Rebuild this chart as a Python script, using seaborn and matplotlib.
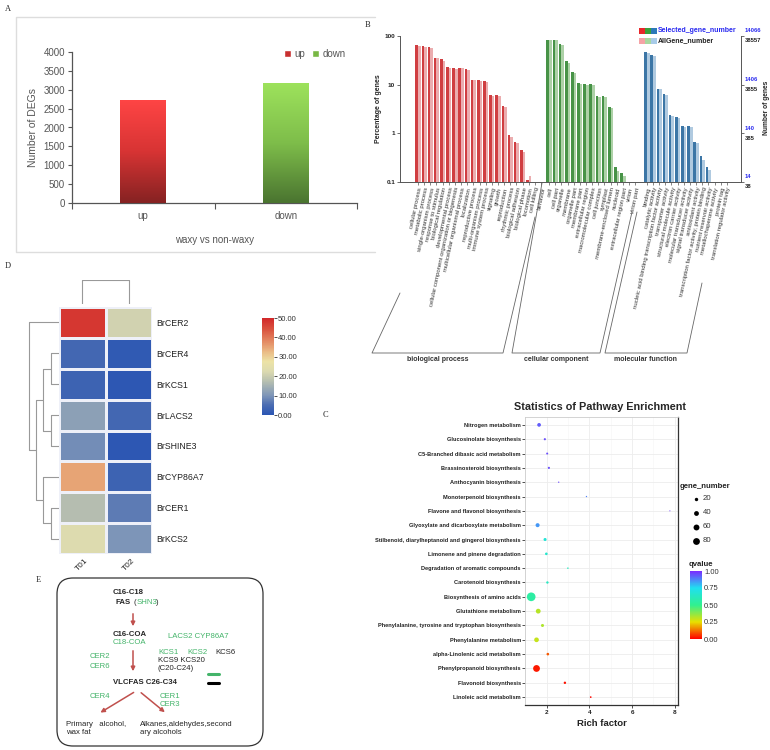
import numpy as np
import pandas as pd
import matplotlib
matplotlib.use("Agg")
import matplotlib.pyplot as plt
import matplotlib.transforms as mtransforms
from matplotlib.colors import LinearSegmentedColormap, Normalize
from matplotlib.cm import ScalarMappable
from matplotlib.patches import Rectangle, FancyBboxPatch, FancyArrowPatch
import seaborn as sns

# ------------------------------------------------------------------ data
# Panel A
deg_groups = ["up", "down"]
deg_counts = [2740, 3170]

# Panel B (GO classification, percentage of genes)
bp_terms = ["cellular process", "metabolic process", "single-organism process",
            "response to stimulus", "biological regulation", "developmental process",
            "cellular component organization or biogenesis", "multicellular organismal process",
            "localization", "reproductive process", "multi-organism process",
            "immune system process", "signaling", "growth", "reproduction",
            "rhythmic process", "biological adhesion", "biological phase",
            "locomotion", "cell killing", "behavior"]
bp_selected = [64, 61, 59, 36, 33, 23, 22, 22, 21, 12.6, 12.3, 11.7, 6.0, 6.1, 3.7,
               0.91, 0.66, 0.45, 0.11, 0, 0]
bp_all = [62, 60, 57, 35, 31, 22, 21, 22, 20, 12.2, 12.0, 11.2, 5.8, 5.9, 3.5,
          0.85, 0.62, 0.42, 0.13, 0, 0]
cc_terms = ["cell", "cell part", "organelle", "membrane", "organelle part", "membrane part",
            "extracellular region", "macromolecular complex", "cell junction", "symplast",
            "membrane-enclosed lumen", "nucleoid", "extracellular region part", "virion",
            "virion part"]
cc_selected = [84, 84, 67, 30, 18, 10.8, 10.3, 10.3, 5.9, 5.9, 3.5, 0.2, 0.15, 0, 0]
cc_all = [82, 82, 65, 28, 17, 10.4, 10.0, 10.0, 5.7, 5.7, 3.3, 0.17, 0.13, 0, 0]
mf_terms = ["binding", "catalytic activity",
            "nucleic acid binding transcription factor activity", "transporter activity",
            "structural molecule activity", "electron carrier activity",
            "molecular transducer activity", "signal transducer activity",
            "antioxidant activity", "transcription factor activity, protein binding",
            "nutrient reservoir activity", "metallochaperone activity", "protein tag",
            "translation regulator activity"]
mf_selected = [47, 40, 8.3, 6.3, 2.35, 2.2, 1.4, 1.4, 0.66, 0.35, 0.2, 0, 0, 0]
mf_all = [45, 38, 8.0, 6.1, 2.25, 2.1, 1.35, 1.35, 0.62, 0.28, 0.18, 0, 0, 0]
go_classes = ["biological process", "cellular component", "molecular function"]
pct_ticks = [100, 10, 1, 0.1]
pct_labels = ["100", "10", "1", "0.1"]
sel_totals = ["14066", "1406", "140", "14"]
all_totals = ["38557", "3855", "385", "38"]

# Panel D (heatmap)
genes = ["BrCER2", "BrCER4", "BrKCS1", "BrLACS2", "BrSHINE3", "BrCYP86A7", "BrCER1", "BrKCS2"]
samples = ["T01", "T02"]
t01_expr = [48, 4, 3, 12, 9, 35, 17, 23]
t02_expr = [21, 1, 0.5, 4, 0.5, 3, 7, 10]
row_merges = [(1, 2, 1.0), (3, 4, 1.0), (6, 7, 1.0), (8, 9, 2.05), (5, 10, 2.05),
              (11, 12, 3.0), (0, 13, 3.9)]
col_merges = [(0, 1, 1.0)]

# Panel C (KEGG enrichment)
pathways = ["Nitrogen metabolism", "Glucosinolate biosynthesis",
            "C5-Branched dibasic acid metabolism", "Brassinosteroid biosynthesis",
            "Anthocyanin biosynthesis", "Monoterpenoid biosynthesis",
            "Flavone and flavonol biosynthesis", "Glyoxylate and dicarboxylate metabolism",
            "Stilbenoid, diarylheptanoid and gingerol biosynthesis",
            "Limonene and pinene degradation", "Degradation of aromatic compounds",
            "Carotenoid biosynthesis", "Biosynthesis of amino acids",
            "Glutathione metabolism", "Phenylalanine, tyrosine and tryptophan biosynthesis",
            "Phenylalanine metabolism", "alpha-Linolenic acid metabolism",
            "Phenylpropanoid biosynthesis", "Flavonoid biosynthesis",
            "Linoleic acid metabolism"]
rich_factor = [1.64, 1.91, 2.02, 2.10, 2.56, 3.86, 7.77, 1.57, 1.92, 1.98, 2.99, 2.03,
               1.27, 1.60, 1.80, 1.52, 2.05, 1.52, 2.85, 4.06]
gene_number = [24, 8, 7, 8, 3, 3, 2, 28, 16, 12, 4, 10, 130, 40, 16, 38, 12, 80, 10, 5]
qvalue = [0.93, 0.95, 0.95, 0.95, 0.96, 0.88, 0.97, 0.85, 0.68, 0.66, 0.62, 0.63,
          0.55, 0.32, 0.33, 0.30, 0.10, 0.03, 0.02, 0.01]
size_legend = [20, 40, 60, 80]
q_ticks = [0, 0.25, 0.5, 0.75, 1.0]

# ------------------------------------------------------------------ setup
sns.set_style("white")
plt.rcParams['font.family'] = ['Liberation Sans', 'DejaVu Sans']
W, H = 770, 750
fig = plt.figure(figsize=(7.7, 7.5), dpi=100)


def rect(x0, y0, x1, y1):
    return [x0 / W, 1 - y1 / H, (x1 - x0) / W, (y1 - y0) / H]


# ------------------------------------------------------------------ Panel A
axA = fig.add_axes(rect(72, 52, 357, 203))
sns.barplot(x=deg_groups, y=deg_counts, hue=deg_groups,
            palette={"up": "#e03a3a", "down": "#86c84c"}, width=0.32,
            legend=False, ax=axA, zorder=2)
grad = np.linspace(0, 1, 256).reshape(-1, 1)
grad_maps = [LinearSegmentedColormap.from_list("r", ["#852222", "#d83434", "#ff4545"]),
             LinearSegmentedColormap.from_list("g", ["#4a7430", "#7ebd4a", "#9de25c"])]
for patch, cm in zip(list(axA.patches)[:2], grad_maps):
    x0, y0 = patch.get_x(), patch.get_y()
    w, h = patch.get_width(), patch.get_height()
    im = axA.imshow(grad, extent=[x0, x0 + w, y0, y0 + h], origin="lower",
                    aspect="auto", cmap=cm, zorder=3)
    im.set_clip_path(patch)
axA.set_xlim(-0.5, 1.5)
axA.set_ylim(0, 4000)
axA.set_yticks(np.arange(0, 4001, 500))
axA.set_yticklabels([str(v) for v in range(0, 4001, 500)])
axA.set_xticks([0, 1])
axA.set_xticklabels(deg_groups)
axA.set_xticks([-0.5, 0.5, 1.5], minor=True)
for s in ["top", "right"]:
    axA.spines[s].set_visible(False)
for s in ["left", "bottom"]:
    axA.spines[s].set_color("#555555")
    axA.spines[s].set_linewidth(0.9)
axA.tick_params(axis="y", length=3, width=0.8, color="#555555", labelsize=7,
                labelcolor="#555555", pad=2, left=True)
axA.tick_params(axis="x", which="major", length=0, labelsize=7, labelcolor="#555555", pad=6)
axA.tick_params(axis="x", which="minor", length=4, width=0.8, color="#555555", bottom=True)
axA.set_ylabel("Number of DEGs", fontsize=7.5, color="#555555", labelpad=4)
axA.set_xlabel("waxy vs non-waxy", fontsize=7, color="#555555", labelpad=10)
handlesA = [Rectangle((0, 0), 1, 1, fc="#c83030"), Rectangle((0, 0), 1, 1, fc="#78b844")]
axA.legend(handlesA, deg_groups, ncol=2, loc="upper right",
           bbox_to_anchor=(354 / W, 1 - 40 / H), bbox_transform=fig.transFigure,
           frameon=False, fontsize=7, handlelength=0.7, handleheight=0.7,
           handletextpad=0.3, columnspacing=0.8, labelcolor="#555555")

# ------------------------------------------------------------------ Panel B
axB = fig.add_axes(rect(400, 36, 741, 182))
axB.set_yscale("log")
group_offsets = [0.0, 21.3, 37.2]
group_data = [(bp_terms, bp_selected, bp_all, ("#e8262a", "#f5a3a6")),
              (cc_terms, cc_selected, cc_all, ("#3aa03a", "#a8d8a0")),
              (mf_terms, mf_selected, mf_all, ("#2a78b8", "#a8cbe8"))]
all_pos, all_terms = [], []
for (terms, sel, allv, (dk, lt)), off in zip(group_data, group_offsets):
    n = len(terms)
    x = np.arange(n) + off
    all_pos.extend(list(x))
    all_terms.extend(terms)
    df = pd.DataFrame({"x": np.concatenate([x, x]),
                       "pct": np.concatenate([sel, allv]),
                       "set": ["Selected"] * n + ["All"] * n})
    df = df[df["pct"] > 0]
    sns.barplot(data=df, x="x", y="pct", hue="set", hue_order=["Selected", "All"],
                palette={"All": lt, "Selected": dk}, native_scale=True, width=0.86,
                dodge=True, errorbar=None, legend=False, ax=axB, linewidth=0)
axB.set_xlim(-2.93, 52.5)
axB.set_ylim(0.1, 100)
axB.set_yticks(pct_ticks)
axB.set_yticklabels(pct_labels)
axB.yaxis.set_minor_locator(matplotlib.ticker.NullLocator())
axB.set_xticks(all_pos)
axB.set_xticklabels(all_terms, rotation=78, ha="right", rotation_mode="anchor",
                    fontsize=4.3, color="#333333")
axB.tick_params(axis="x", length=2, width=0.5, color="#555555", pad=1.5, bottom=True)
axB.tick_params(axis="y", length=2, width=0.5, color="#333333", labelsize=4.6, pad=1.5,
                left=True, right=True)
for lab in axB.get_yticklabels():
    lab.set_fontweight("bold")
axB.set_xlabel("")
axB.set_ylabel("Percentage of genes", fontsize=5, fontweight="bold", labelpad=2)
axB.spines["top"].set_visible(False)
for s in ["bottom", "right", "left"]:
    axB.spines[s].set_color("#555555")
    axB.spines[s].set_linewidth(0.7)
trB = mtransforms.blended_transform_factory(axB.transAxes, axB.transData)
for v, st, at in zip(pct_ticks, sel_totals, all_totals):
    axB.text(1.01, v, st, transform=mtransforms.offset_copy(trB, fig=fig, y=5, units="dots"),
             fontsize=4.2, color="#2a2af0", fontweight="bold", va="center", ha="left")
    axB.text(1.01, v, at, transform=mtransforms.offset_copy(trB, fig=fig, y=-5, units="dots"),
             fontsize=4.2, color="#222222", fontweight="bold", va="center", ha="left")
fig.text(766.5 / W, 1 - 108 / H, "Number of genes", rotation=90, fontsize=4.8,
         fontweight="bold", ha="center", va="center")

# ------------------------------------------------------------------ Panel D
heat_cmap = LinearSegmentedColormap.from_list(
    "heat", [(0.0, "#2a55b3"), (0.1, "#4a6cb2"), (0.2, "#7d95b8"), (0.35, "#b8c0b0"),
             (0.45, "#dcdab0"), (0.55, "#ece3a6"), (0.65, "#eabb86"), (0.75, "#e48e66"),
             (0.88, "#da5540"), (1.0, "#d2282a")])
dfD = pd.DataFrame({"T01": t01_expr, "T02": t02_expr}, index=genes)
axD = fig.add_axes(rect(59, 307, 152, 554))
axCb = fig.add_axes(rect(262, 318, 274, 415))
sns.heatmap(dfD, ax=axD, cmap=heat_cmap, vmin=0, vmax=50, linewidths=0.8,
            linecolor="#eef0f8", cbar_ax=axCb,
            cbar_kws=dict(ticks=[0, 10, 20, 30, 40, 50], format="%.2f"))
axD.yaxis.tick_right()
axD.set_yticklabels(genes, rotation=0, fontsize=6.3, color="#222222")
axD.set_xticklabels(samples, rotation=45, ha="center", fontsize=6, color="#222222")
axD.tick_params(axis="y", length=0, pad=3)
axD.tick_params(axis="x", length=0, pad=2)
axD.set_xlabel("")
axD.set_ylabel("")
axCb.tick_params(labelsize=5.5, length=2, width=0.6, color="#333333", pad=1,
                 labelcolor="#333333")
axD.collections[0].colorbar.outline.set_visible(False)


def draw_dendro(ax, merges, n, orient):
    pos = {i: i + 0.5 for i in range(n)}
    hgt = {i: 0.0 for i in range(n)}
    for k, (a, b, h) in enumerate(merges):
        pa, pb = pos[a], pos[b]
        hs = [hgt[a], h, h, hgt[b]]
        ps = [pa, pa, pb, pb]
        if orient == "left":
            ax.plot(hs, ps, color="#999999", lw=0.8)
        else:
            ax.plot(ps, hs, color="#999999", lw=0.8)
        pos[n + k] = (pa + pb) / 2
        hgt[n + k] = h


axDL = fig.add_axes(rect(27, 307, 59, 554))
draw_dendro(axDL, row_merges, len(genes), "left")
axDL.set_xlim(4.1, 0)
axDL.set_ylim(len(genes), 0)
axDL.axis("off")
axDT = fig.add_axes(rect(59, 280, 152, 304))
draw_dendro(axDT, col_merges, len(samples), "top")
axDT.set_xlim(0, len(samples))
axDT.set_ylim(0, 1.02)
axDT.axis("off")

# ------------------------------------------------------------------ Panel C
q_cmap = LinearSegmentedColormap.from_list(
    "q", [(0.0, "#ff0000"), (0.25, "#e8e000"), (0.5, "#30f090"), (0.75, "#20e0f0"),
          (1.0, "#7a2cff")])
dfC = pd.DataFrame({"pathway": pathways, "rich": rich_factor, "genes": gene_number,
                    "q": qvalue})
axC = fig.add_axes(rect(525, 417, 678, 705))
sns.scatterplot(data=dfC, x="rich", y="pathway", hue="q", palette=q_cmap, hue_norm=(0, 1),
                size="genes", sizes=(0, 45), size_norm=(0, 150), linewidth=0,
                legend=False, ax=axC, zorder=3)
axC.set_xlim(0.98, 8.15)
axC.set_ylim(len(pathways) - 0.45, -0.55)
axC.set_xticks([2, 4, 6, 8])
axC.set_xticks([1, 3, 5, 7], minor=True)
axC.grid(True, which="major", color="#ededed", lw=0.6, zorder=0)
axC.grid(True, which="minor", axis="x", color="#f5f5f5", lw=0.4, zorder=0)
axC.set_axisbelow(True)
axC.tick_params(axis="y", length=2, width=0.6, color="#333333", labelsize=4.1, pad=1,
                left=True, labelcolor="#222222")
axC.tick_params(axis="x", which="major", length=2, width=0.6, color="#333333",
                labelsize=4.6, pad=1.5, bottom=True, labelcolor="#222222")
axC.tick_params(axis="x", which="minor", length=0)
for lab in list(axC.get_yticklabels()) + list(axC.get_xticklabels()):
    lab.set_fontweight("bold")
axC.set_ylabel("")
axC.set_xlabel("Rich factor", fontsize=6.8, fontweight="bold", color="#222222", labelpad=3)
axC.set_title("Statistics of Pathway Enrichment", fontsize=7.8, fontweight="bold",
              pad=5, x=0.49)
for s in ["top", "left"]:
    axC.spines[s].set_color("#cccccc")
    axC.spines[s].set_linewidth(0.6)
for s in ["bottom", "right"]:
    axC.spines[s].set_color("#333333")
    axC.spines[s].set_linewidth(0.9)

axQ = fig.add_axes(rect(690, 571, 702, 639))
cbq = fig.colorbar(ScalarMappable(norm=Normalize(0, 1), cmap=q_cmap), cax=axQ,
                   ticks=q_ticks, format="%.2f")
cbq.outline.set_visible(False)
axQ.tick_params(labelsize=5.5, length=2.5, width=0.5, color="white", pad=1.5,
                labelcolor="#333333", direction="in")

# ------------------------------------------------------------------ overlay
axO = fig.add_axes([0, 0, 1, 1])
axO.set_xlim(0, W)
axO.set_ylim(H, 0)
axO.axis("off")
axO.patch.set_alpha(0)

# panel letters
for letter, (lx, ly) in {"A": (8, 9), "B": (368, 25), "D": (8, 266), "C": (325, 415),
                         "E": (38, 580)}.items():
    axO.text(lx, ly, letter, fontsize=6, family="Liberation Serif", ha="center", va="center")

# panel A frame
axO.plot([375, 16, 16, 375], [17, 17, 252, 252], color="#dddddd", lw=1)

# panel B legend
for i, (dk, lt) in enumerate([g[3] for g in group_data]):
    axO.add_patch(Rectangle((639 + 6 * i, 28), 5.5, 5.5, fc=dk, ec="none"))
    axO.add_patch(Rectangle((639 + 6 * i, 38), 5.5, 5.5, fc=lt, ec="none"))
axO.text(658, 30.5, "Selected_gene_number", fontsize=5, fontweight="bold",
         color="#2a2af0", va="center")
axO.text(658, 40.5, "AllGene_number", fontsize=5, fontweight="bold", color="#222222",
         va="center")

# panel B brackets
brk = dict(color="#666666", lw=0.6)
axO.plot([400, 372, 503, 535], [293, 353, 353, 217], **brk)
axO.plot([542, 512, 600, 632], [183, 353, 353, 212], **brk)
axO.plot([637, 605, 687, 702], [212, 353, 353, 283], **brk)
for cx, name in zip([438, 556, 646], go_classes):
    axO.text(cx, 359.5, name, fontsize=5, fontweight="bold", color="#333333",
             ha="center", va="center")

# panel C size legend
axO.text(680, 486, "gene_number", fontsize=5.6, fontweight="bold", color="#222222",
         va="center")
for i, g in enumerate(size_legend):
    axO.scatter(696, 499 + 14 * i, s=45 * g / 150, color="black", lw=0)
    axO.text(703, 499 + 14 * i, str(g), fontsize=5.6, color="#333333", va="center")
axO.text(689, 565, "qvalue", fontsize=5.6, fontweight="bold", color="#222222", va="center")

# panel E diagram
axO.add_patch(FancyBboxPatch((57, 578), 206, 168, boxstyle="round,pad=0,rounding_size=16",
                             fc="none", ec="#333333", lw=0.9))
green = "#44b46a"
fsE = 5.6
tE = dict(fontsize=fsE, va="center", ha="left")
axO.text(113, 593, "C16-C18", fontweight="bold", **tE)
axO.text(116, 602, "FAS", fontweight="bold", **tE)
axO.text(134, 602, "(", **tE)
axO.text(136.5, 602, "SHN3", color=green, **tE)
axO.text(156, 602, ")", **tE)
axO.text(113, 634, "C16-COA", fontweight="bold", **tE)
axO.text(113, 643, "C18-COA", color=green, **tE)
axO.text(168, 636, "LACS2 CYP86A7", color=green, **tE)
axO.text(90, 657, "CER2", color=green, **tE)
axO.text(90, 666, "CER6", color=green, **tE)
axO.text(158, 652, "KCS1", color=green, **tE)
axO.text(187, 652, "KCS2", color=green, **tE)
axO.text(215, 652, "KCS6", **tE)
axO.text(158, 661, "KCS9 KCS20", **tE)
axO.text(158, 669, "(C20-C24)", **tE)
axO.text(113, 683, "VLCFAS C26-C34", fontweight="bold", **tE)
axO.text(90, 697, "CER4", color=green, **tE)
axO.text(160, 696, "CER1", color=green, **tE)
axO.text(160, 704, "CER3", color=green, **tE)
axO.text(66, 724, "Primary   alcohol,", **tE)
axO.text(66, 733, "wax fat", **tE)
axO.text(140, 724, "Alkanes,aldehydes,second", **tE)
axO.text(140, 733, "ary alcohols", **tE)
axO.plot([208, 219], [674, 674], color=green, lw=2.2)
axO.plot([208, 219], [683, 683], color="black", lw=2.2)
arr = dict(arrowstyle="-|>", color="#c0504d", lw=1.1, mutation_scale=6)
for (x0, y0), (x1, y1) in [((133, 611), (133, 629)), ((133, 648), (133, 674)),
                           ((136, 691), (98, 714)), ((139, 691), (167, 714))]:
    axO.add_patch(FancyArrowPatch((x0, y0), (x1, y1), **arr))

fig.savefig("out.png", dpi=100)
